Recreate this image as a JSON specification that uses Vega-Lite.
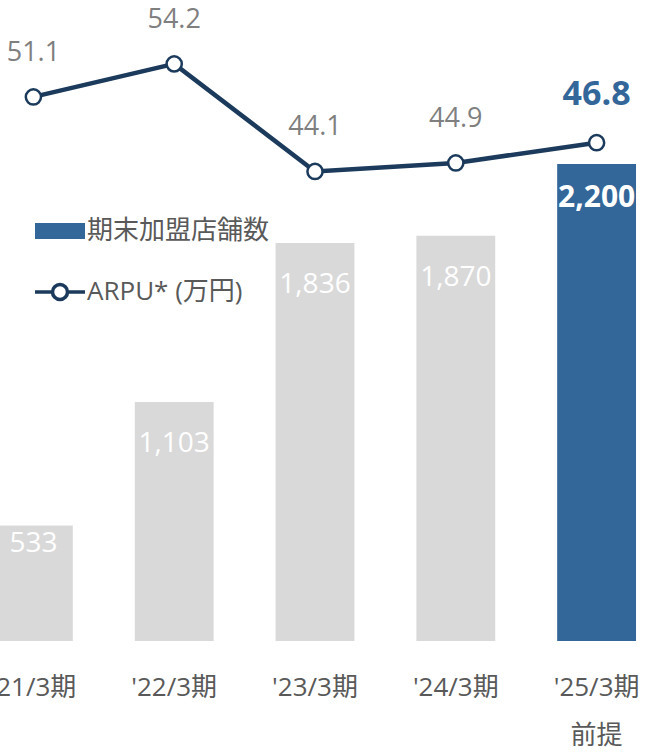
{
  "$schema": "https://vega.github.io/schema/vega-lite/v6.json",
  "width": 704,
  "height": 641,
  "autosize": {"type": "none"},
  "padding": {"left": -37, "top": 0, "right": 0, "bottom": 112},
  "config": {"view": {"stroke": null}, "font": "Open Sans, Noto Sans CJK JP"},
  "data": {"values": [
    {"period": "'21/3期", "stores": 533, "arpu": 51.1, "kind": "実績"},
    {"period": "'22/3期", "stores": 1103, "arpu": 54.2, "kind": "実績"},
    {"period": "'23/3期", "stores": 1836, "arpu": 44.1, "kind": "実績"},
    {"period": "'24/3期", "stores": 1870, "arpu": 44.9, "kind": "実績"},
    {"period": "'25/3期", "stores": 2200, "arpu": 46.8, "kind": "前提"}
  ]},
  "encoding": {
    "x": {
      "field": "period", "type": "nominal", "sort": null,
      "scale": {"paddingInner": 0.44, "paddingOuter": 0.22},
      "axis": {
        "title": null, "domain": false, "ticks": false, "grid": false, "labelAngle": 0,
        "labelFontSize": 26, "labelColor": "#595959", "labelPadding": 33, "labelLineHeight": 48,
        "labelFont": "Open Sans, Noto Sans CJK JP",
        "labelExpr": "datum.value === \"'25/3期\" ? [datum.value, '前提'] : datum.value"
      }
    }
  },
  "layer": [
    {
      "encoding": {
        "y": {"field": "stores", "type": "quantitative", "scale": {"domain": [0, 2957], "nice": false}, "axis": null}
      },
      "layer": [
        {
          "mark": {"type": "bar"},
          "encoding": {
            "color": {"field": "kind", "type": "nominal", "scale": {"domain": ["実績", "前提"], "range": ["#d9d9d9", "#336699"]}, "legend": null}
          }
        },
        {
          "transform": [{"filter": "datum.stores > 600 && datum.stores < 2000"}],
          "mark": {"type": "text", "baseline": "middle", "dy": 42, "fontSize": 28, "color": "white"},
          "encoding": {"text": {"field": "stores", "type": "quantitative", "format": ","}}
        },
        {
          "transform": [{"filter": "datum.stores < 600"}],
          "mark": {"type": "text", "baseline": "middle", "dy": 19, "fontSize": 28, "color": "white"},
          "encoding": {"text": {"field": "stores", "type": "quantitative", "format": ","}}
        },
        {
          "transform": [{"filter": "datum.stores >= 2000"}],
          "mark": {"type": "text", "baseline": "middle", "dy": 34, "fontSize": 30, "fontWeight": "bold", "color": "white"},
          "encoding": {"text": {"field": "stores", "type": "quantitative", "format": ","}}
        }
      ]
    },
    {
      "encoding": {
        "y": {"field": "arpu", "type": "quantitative", "scale": {"domain": [0, 60.2], "nice": false, "zero": true}, "axis": null}
      },
      "layer": [
        {
          "mark": {"type": "line", "strokeWidth": 4.5},
          "encoding": {
            "stroke": {
              "datum": "ARPU* (万円)", "type": "nominal",
              "scale": {"domain": ["期末加盟店舗数", "ARPU* (万円)"], "range": ["#336699", "#1b3a5c"]},
              "legend": {
                "orient": "none", "legendX": 84, "legendY": 218, "title": null, "padding": 0,
                "labelFontSize": 26, "labelColor": "#595959", "labelOffset": 14, "rowPadding": 33,
                "labelLimit": 400, "symbolSize": 2500, "labelFont": "Open Sans, Noto Sans CJK JP",
                "encode": {
                  "symbols": {
                    "update": {
                      "shape": {"signal": "datum.value === '期末加盟店舗数' ? 'M-1,-0.32H1V0.32H-1Z' : 'M-1,0H-0.3M0.3,0H1M0.3,0A0.3,0.3,0,1,1,-0.3,0A0.3,0.3,0,1,1,0.3,0Z'"},
                      "size": {"value": 2500},
                      "fill": {"signal": "datum.value === '期末加盟店舗数' ? '#336699' : 'white'"},
                      "stroke": {"signal": "datum.value === '期末加盟店舗数' ? 'transparent' : '#1b3a5c'"},
                      "strokeWidth": {"signal": "datum.value === '期末加盟店舗数' ? 0 : 3.5"},
                      "opacity": {"value": 1},
                      "fillOpacity": {"value": 1},
                      "strokeOpacity": {"value": 1}
                    }
                  }
                }
              }
            }
          }
        },
        {
          "mark": {"type": "point", "filled": true, "fill": "white", "stroke": "#1b3a5c", "strokeWidth": 2.5, "size": 230, "opacity": 1}
        },
        {
          "transform": [{"filter": "datum.kind !== '前提'"}],
          "mark": {"type": "text", "baseline": "middle", "dy": -44, "fontSize": 27, "color": "#7f7f7f"},
          "encoding": {"text": {"field": "arpu", "type": "quantitative", "format": ".1f"}}
        },
        {
          "transform": [{"filter": "datum.kind === '前提'"}],
          "mark": {"type": "text", "baseline": "middle", "dy": -48, "fontSize": 34, "fontWeight": "bold", "color": "#336699"},
          "encoding": {"text": {"field": "arpu", "type": "quantitative", "format": ".1f"}}
        }
      ]
    }
  ],
  "resolve": {"scale": {"y": "independent"}}
}
